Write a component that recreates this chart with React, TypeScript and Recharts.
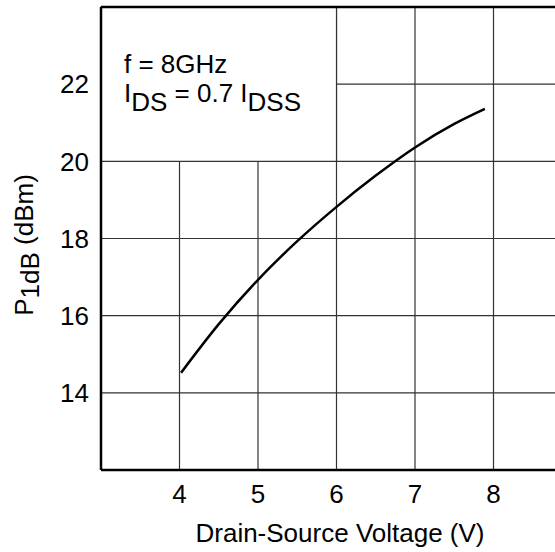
import React from 'react';
import { LineChart, Line, XAxis, YAxis, CartesianGrid, ReferenceArea, ReferenceLine } from 'recharts';

const FONT = '"Liberation Sans", Arial, Helvetica, sans-serif';

const voltage = [4.02, 4.5, 5.0, 5.5, 6.0, 6.5, 7.0, 7.5, 7.89];
const p1db = [14.52, 15.78, 16.93, 17.93, 18.82, 19.63, 20.36, 20.97, 21.36];
const xTicks = [4, 5, 6, 7, 8];
const yTicks = [14, 16, 18, 20, 22];
const xTitle = 'Drain-Source Voltage (V)';

const data = voltage.map((v, i) => ({ v, p: p1db[i] }));

const FS = 26;

const LegendText = () => (
  <g fontFamily={FONT} fontSize={FS} fill="#000">
    <text x={124} y={73}>f = 8GHz</text>
    <text x={124} y={102}>
      I<tspan dy={9}>DS</tspan>
      <tspan dy={-9}> = 0.7 I</tspan>
      <tspan dy={9}>DSS</tspan>
    </text>
  </g>
);

const YTitle = () => (
  <text
    x={33}
    y={245}
    transform="rotate(-90, 33, 245)"
    textAnchor="middle"
    fontFamily={FONT}
    fontSize={FS}
    fill="#000"
  >
    P<tspan dy={6}>1dB</tspan>
    <tspan dy={-6}> (dBm)</tspan>
  </text>
);

const XTitle = () => (
  <text x={340} y={542} textAnchor="middle" fontFamily={FONT} fontSize={FS} fill="#000">
    {xTitle}
  </text>
);

export default function App() {
  return (
    <div style={{ position: 'absolute', left: 0, top: 0, width: 555, height: 552, overflow: 'hidden', background: '#fff' }}>
      <LineChart width={600} height={552} data={data} margin={{ top: 7, right: 28, left: 0, bottom: 0 }}>
        <CartesianGrid stroke="#333" strokeWidth={1.2} />
        <XAxis
          dataKey="v"
          type="number"
          domain={[3, 9]}
          ticks={xTicks}
          height={82}
          tickLine={false}
          tickSize={0}
          tickMargin={15}
          axisLine={{ stroke: '#000', strokeWidth: 2.5 }}
          tick={{ fill: '#000', fontSize: FS, fontFamily: FONT }}
          label={{ content: () => <XTitle /> }}
        />
        <YAxis
          type="number"
          domain={[12, 24]}
          ticks={yTicks}
          width={101}
          tickLine={false}
          tickSize={0}
          tickMargin={12}
          axisLine={{ stroke: '#000', strokeWidth: 2.5 }}
          tick={{ fill: '#000', fontSize: FS, fontFamily: FONT }}
          label={{ content: () => <YTitle /> }}
        />
        <ReferenceArea
          x1={3}
          x2={6}
          y1={20}
          y2={24}
          fill="#fff"
          fillOpacity={1}
          stroke="#333"
          strokeWidth={1.2}
          ifOverflow="visible"
          label={{ content: () => <LegendText /> }}
        />
        <ReferenceLine y={24} stroke="#000" strokeWidth={2.5} ifOverflow="visible" />
        <Line
          type="monotone"
          dataKey="p"
          stroke="#000"
          strokeWidth={2.5}
          dot={false}
          isAnimationActive={false}
        />
      </LineChart>
    </div>
  );
}
